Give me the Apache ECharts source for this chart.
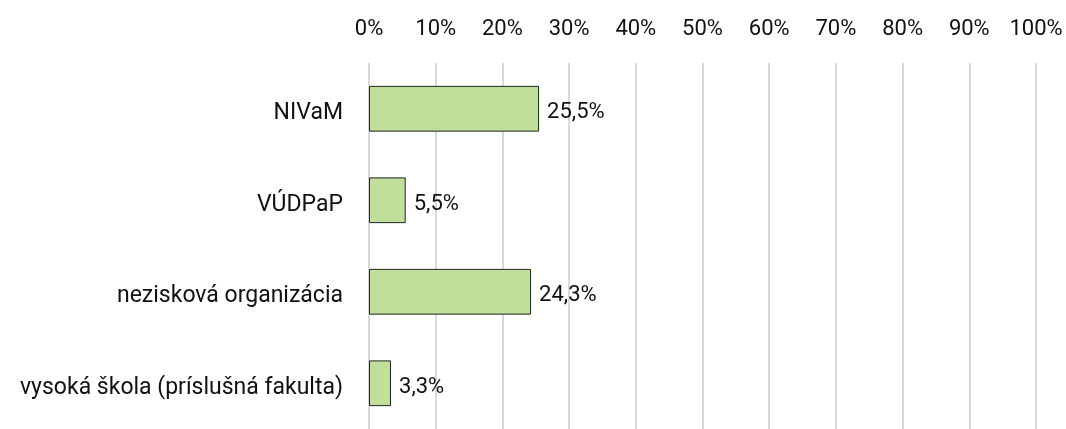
<!DOCTYPE html>
<html>
<head>
<meta charset="utf-8">
<script src="https://cdn.jsdelivr.net/npm/echarts@6/dist/echarts.min.js"></script>
<style>
  html, body { margin: 0; padding: 0; background: #fff; }
  #chart { width: 1066px; height: 429px; }
</style>
</head>
<body>
<div id="chart"></div>
<script>
// categories top to bottom
const categories = ["NIVaM", "VÚDPaP", "nezisková organizácia", "vysoká škola (príslušná fakulta)"];
const values = [25.5, 5.5, 24.3, 3.3];

var chartDom = document.getElementById("chart");
var myChart = echarts.init(chartDom);

var option = {
  backgroundColor: "#fff",
  animation: false,
  textStyle: { fontFamily: "Roboto" },
  grid: {
    left: 369,
    right: 30,
    top: 63,
    bottom: -6
  },
  xAxis: {
    type: "value",
    position: "top",
    min: 0,
    max: 100,
    interval: 10,
    axisLine: { show: false },
    axisTick: { show: false },
    splitLine: { lineStyle: { color: "#d9d9d9", width: 2 } },
    axisLabel: {
      formatter: "{value}%",
      color: "#111",
      fontSize: 22,
      margin: 23
    }
  },
  yAxis: {
    type: "category",
    inverse: true,
    data: categories,
    axisLine: { show: false },
    axisTick: { show: false },
    axisLabel: {
      margin: 26,
      formatter: "{a|{value}}",
      rich: {
        a: { color: "#111", fontSize: 23, fontFamily: "Roboto", padding: [9, 0, 0, 0] }
      }
    }
  },
  series: [
    {
      type: "bar",
      data: values,
      barWidth: "50%",
      itemStyle: {
        color: "#c0df9a",
        borderColor: "#222",
        borderWidth: 1
      },
      label: {
        show: true,
        position: "right",
        distance: 8,
        offset: [0, 4],
        color: "#111",
        fontSize: 22,
        formatter: function (p) {
          return p.value.toFixed(1).replace(".", ",") + "%";
        }
      }
    }
  ]
};

option && myChart.setOption(option);
</script>
</body>
</html>
